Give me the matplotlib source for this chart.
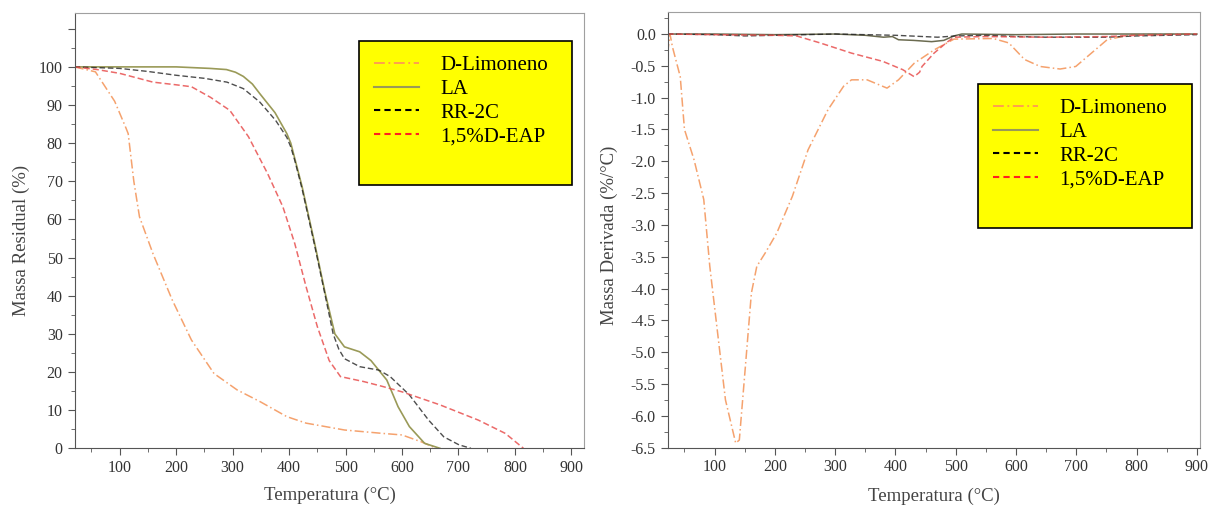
import matplotlib
matplotlib.use("Agg")
import matplotlib.pyplot as plt
from matplotlib.lines import Line2D
from matplotlib.ticker import MultipleLocator, FormatStrFormatter

plt.rcParams['font.family'] = ['Liberation Serif', 'DejaVu Serif']

# --- TGA (Massa Residual) ---
lim_T = [20, 57, 91, 111, 115, 125, 135, 159, 193, 227, 267, 308, 349, 396, 430, 498, 566, 600, 634, 661]
lim_M = [100, 98.7, 91, 84, 82.5, 70, 60.7, 51, 38.9, 28.4, 19.6, 15.3, 12.2, 8.3, 6.6, 4.8, 3.9, 3.5, 1.7, 0]

la_T = [20, 200, 260, 289, 305, 319, 335, 348, 375, 396, 403, 410, 423, 444, 464, 481, 498, 525, 545, 573, 593, 613, 640, 667]
la_M = [100, 100, 99.6, 99.3, 98.6, 97.5, 95.5, 93, 88, 82.5, 80, 76, 68.6, 54.6, 40.6, 30, 26.6, 25.3, 23, 17.9, 10.9, 5.7, 1.3, 0]

rr_T = [20, 100, 150, 200, 250, 290, 319, 348, 376, 396, 403, 410, 423, 444, 464, 478, 488, 498, 525, 559, 579, 613, 647, 674, 701, 722]
rr_M = [100, 99.6, 98.8, 97.8, 97, 96, 94.3, 90.8, 86, 81.5, 79, 75.5, 68, 54, 40, 30, 26, 23.5, 21.4, 20.5, 18.8, 14, 7.4, 3, 0.9, 0]

eap_T = [20, 60, 100, 159, 200, 227, 261, 295, 328, 362, 389, 410, 430, 450, 471, 491, 532, 566, 600, 667, 735, 783, 815]
eap_M = [100, 99.3, 98.3, 96, 95.3, 94.8, 92, 88.6, 81.7, 72, 63.3, 53.7, 42.4, 31.9, 23, 18.8, 17.5, 16.2, 14.8, 11.4, 7.4, 3.9, 0]

# --- DTG (Massa Derivada) ---
dlim_T = [22, 26, 30, 43, 50, 66, 82, 92, 105, 118, 135, 141, 151, 161, 170, 184, 203, 229, 255, 288, 314, 327, 353,
          386, 405, 431, 464, 497, 562, 588, 614, 640, 673, 699, 725, 751, 790, 900]
dlim_D = [-0.3, 0.0, -0.2, -0.67, -1.5, -1.98, -2.6, -3.65, -4.7, -5.75, -6.43, -6.38, -5.23, -4.07, -3.65, -3.44, -3.13,
          -2.55, -1.82, -1.19, -0.82, -0.72, -0.72, -0.85, -0.72, -0.46, -0.25, -0.08, -0.07, -0.14, -0.4, -0.51, -0.55,
          -0.51, -0.3, -0.09, -0.01, 0.0]

dla_T = [22, 100, 200, 300, 350, 380, 395, 405, 430, 460, 480, 497, 510, 600, 700, 800, 900]
dla_D = [0, 0, -0.01, 0, -0.02, -0.05, -0.04, -0.09, -0.1, -0.12, -0.1, -0.03, 0, -0.01, 0, 0, 0]

drr_T = [22, 100, 150, 200, 250, 300, 400, 470, 500, 550, 600, 650, 700, 750, 800, 900]
drr_D = [0, -0.01, -0.03, -0.02, -0.01, 0, -0.02, -0.05, -0.03, -0.02, -0.04, -0.05, -0.05, -0.05, -0.03, -0.01]

deap_T = [22, 100, 200, 236, 275, 327, 379, 412, 431, 440, 444, 464, 484, 497, 550, 650, 750, 800, 900]
deap_D = [0, -0.01, -0.02, -0.03, -0.14, -0.3, -0.43, -0.56, -0.67, -0.6, -0.51, -0.3, -0.14, -0.05, -0.04, -0.05, -0.04, -0.02, 0]

labels = ['D-Limoneno', 'LA', 'RR-2C', '1,5%D-EAP']

c_lim = '#f5a26e'
c_la = '#9a9a58'
c_rr = '#222222'
c_eap = '#e8504f'

fig = plt.figure(figsize=(12.16, 5.11), dpi=100)
ax1 = fig.add_axes([0.0613, 0.1227, 0.4193, 0.8524])
ax2 = fig.add_axes([0.549, 0.124, 0.4378, 0.853])


def style_axes(ax):
    for s in ['top', 'right']:
        ax.spines[s].set_color('#a0a0a0')
    for s in ['left', 'bottom']:
        ax.spines[s].set_color('#555555')
    ax.tick_params(which='both', direction='out', colors='#555555', labelcolor='#333333', labelsize=11.5)
    ax.tick_params(which='major', length=5)
    ax.tick_params(which='minor', length=3)
    ax.xaxis.set_major_locator(MultipleLocator(100))
    ax.xaxis.set_minor_locator(MultipleLocator(50))


def add_legend(ax, x, y, w):
    handles = [
        Line2D([], [], color='#ff9955', lw=1.3, dashes=(6, 2, 1, 2)),
        Line2D([], [], color=c_la, lw=1.5),
        Line2D([], [], color='black', lw=1.5, dashes=(3, 2)),
        Line2D([], [], color='#ff2020', lw=1.5, dashes=(3, 2)),
        Line2D([], [], color='none'),
    ]
    leg = ax.legend(handles, labels + [''], loc='upper left', bbox_to_anchor=(x, y - 0.3, w, 0.3),
                    mode='expand', borderaxespad=0,
                    fontsize=15, frameon=True, fancybox=False, framealpha=1, facecolor='#ffff00',
                    edgecolor='black', labelspacing=0.2, handlelength=2.2, handletextpad=1.0,
                    borderpad=0.7)
    leg.get_frame().set_linewidth(1.2)


# left: TGA
ax1.plot(lim_T, lim_M, color=c_lim, lw=1.1, dashes=(6, 2, 1, 2))
ax1.plot(la_T, la_M, color=c_la, lw=1.2)
ax1.plot(rr_T, rr_M, color=c_rr, lw=1.0, dashes=(4, 2), alpha=0.8)
ax1.plot(eap_T, eap_M, color=c_eap, lw=1.1, dashes=(4, 2), alpha=0.85)
ax1.set_xlim(20, 923)
ax1.set_ylim(0, 114.2)
style_axes(ax1)
ax1.yaxis.set_minor_locator(MultipleLocator(5))
ax1.set_yticks([0, 10, 20, 30, 40, 50, 60, 70, 80, 90, 100, 110],
               ['0', '10', '20', '30', '40', '50', '60', '70', '80', '90', '100', ''])
ax1.set_xlabel('Temperatura (°C)', fontsize=13.5, color='#444444')
ax1.set_ylabel('Massa Residual (%)', fontsize=13.5, color='#444444')
ax1.xaxis.set_label_coords(0.5, -0.089)
ax1.yaxis.set_label_coords(-0.088, 0.478)
add_legend(ax1, 0.558, 0.935, 0.418)

# right: DTG
ax2.plot(dlim_T, dlim_D, color=c_lim, lw=1.1, dashes=(6, 2, 1, 2))
ax2.plot(dla_T, dla_D, color='#6b6b50', lw=1.1)
ax2.plot(drr_T, drr_D, color=c_rr, lw=1.0, dashes=(4, 2), alpha=0.8)
ax2.plot(deap_T, deap_D, color=c_eap, lw=1.1, dashes=(4, 2), alpha=0.85)
ax2.set_xlim(22, 905)
ax2.set_ylim(-6.5, 0.35)
style_axes(ax2)
ax2.yaxis.set_major_locator(MultipleLocator(0.5))
ax2.yaxis.set_minor_locator(MultipleLocator(0.25))
ax2.yaxis.set_major_formatter(FormatStrFormatter('%.1f'))
ax2.set_xlabel('Temperatura (°C)', fontsize=13.5, color='#444444')
ax2.set_ylabel('Massa Derivada (%/°C)', fontsize=13.5, color='#444444')
ax2.xaxis.set_label_coords(0.5, -0.092)
ax2.yaxis.set_label_coords(-0.093, 0.488)
add_legend(ax2, 0.583, 0.834, 0.402)

fig.savefig('out.png', dpi=100)
